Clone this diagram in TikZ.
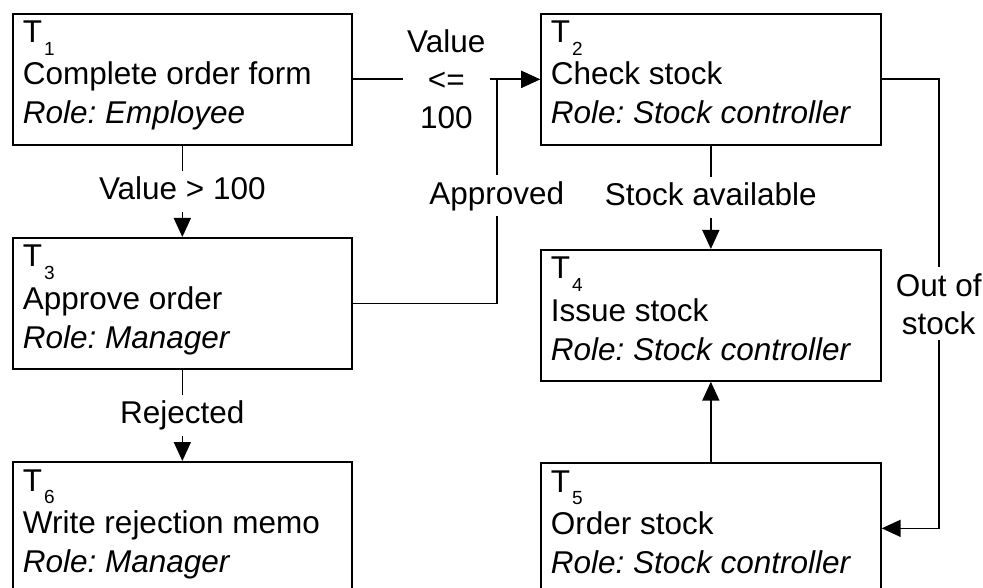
\documentclass[tikz,border=0pt]{standalone}
\usepackage{fontspec}
\setmainfont{Liberation Sans}
\usetikzlibrary{arrows.meta}
\frenchspacing

% One task: frame, number, name and role
% #1 name, #2 left, #3 top, #4 width, #5 number, #6 task, #7 role
\newcommand\taskbox[7]{%
  \node[taskframe, minimum width=#4pt] (#1) at (#2,-#3) {};
  \node[tasktext] (#1-id) at ([shift={(10,-30)}]#1.north west)
    {T\kern2pt\raisebox{-12.5pt}{\fontsize{19}{19}\selectfont #5}};
  \node[tasktext] (#1-name) at ([shift={(10,-72)}]#1.north west) {#6};
  \node[tasktext] (#1-role) at ([shift={(10,-111)}]#1.north west) {\itshape Role: #7};
}

\begin{document}
\begin{tikzpicture}[x=1pt, y=1pt, line width=1.7pt,
  font=\fontsize{31.5}{38}\selectfont,
  taskframe/.style={draw, minimum height=131pt, inner sep=0pt, anchor=north west},
  tasktext/.style={anchor=base west, inner sep=0pt},
  flow/.style={-{Triangle[length=19pt, width=17pt]}},
  cond/.style={fill=white, inner xsep=4.5pt, inner ysep=6pt, text height=23pt, text depth=6pt},
  condmulti/.style={fill=white, inner xsep=4.5pt, inner ysep=6pt, align=center}]

\useasboundingbox (0,0) rectangle (983,-588);
\clip (0,0) rectangle (983,-588);
\fill[white] (0,0) rectangle (983,-588);

% Tasks
\taskbox{t1}{12}{13}{339}{1}{Complete order form}{Employee}
\taskbox{t2}{540}{13}{340}{2}{Check stock}{Stock controller}
\taskbox{t3}{12}{237}{339}{3}{Approve order}{Manager}
\taskbox{t4}{540}{249}{340}{4}{Issue stock}{Stock controller}
\taskbox{t5}{540}{462}{340}{5}{Order stock}{Stock controller}
\taskbox{t6}{12}{461}{339}{6}{Write rejection memo}{Manager}

% Flow between tasks
\draw[flow] (t1.east) -- node[condmulti] (c12) {Value\\<=\\100} (t2.west);
\draw[flow] (t1.south) -- node[cond] (c13) {Value > 100} (t3.north);
\draw[flow] (t3.east) -- ++(144,0) |- node[cond, pos=0.24] (c32) {Approved} (t2.west);
\draw[flow] (t3.south) -- node[cond] (c36) {Rejected} (t6.north);
\draw[flow] (t2.south) -- node[cond] (c24) {Stock available} (t4.north);
\draw[flow] (t2.east) -- ++(57,0) |- node[condmulti, pos=0.25] (c25) {Out of\\stock} (t5.east);
\draw[flow] (t5.north) -- (t4.south);

\end{tikzpicture}
\end{document}
